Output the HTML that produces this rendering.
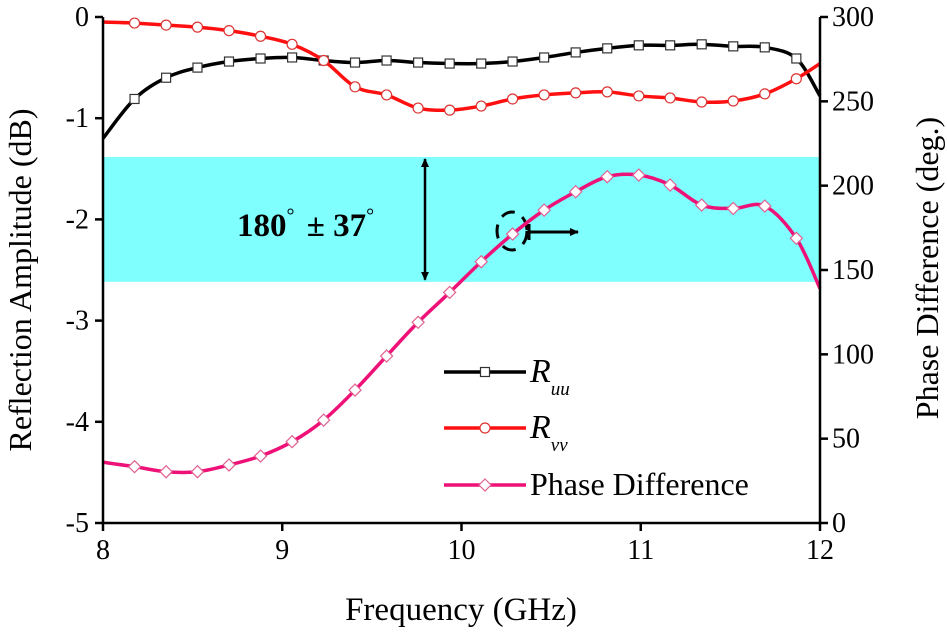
<!DOCTYPE html>
<html><head><meta charset="utf-8"><style>
body{margin:0;background:#fff}
svg{display:block;font-family:"Liberation Serif",serif}
</style></head><body>
<svg id="chart" width="947" height="636" viewBox="0 0 947 636"></svg>
<script>
const freqMarkers = [8.0,8.176,8.352,8.527,8.703,8.879,9.055,9.231,9.406,9.582,9.758,9.934,10.11,10.285,10.461,10.637,10.813,10.989,11.164,11.34,11.516,11.692,11.868,12.0];
const ruuValues = [-1.2,-0.81,-0.60,-0.50,-0.44,-0.41,-0.40,-0.43,-0.45,-0.43,-0.45,-0.46,-0.46,-0.44,-0.40,-0.35,-0.31,-0.28,-0.28,-0.27,-0.29,-0.30,-0.41,-0.78];
const rvvValues = [-0.05,-0.06,-0.08,-0.10,-0.135,-0.19,-0.27,-0.43,-0.69,-0.77,-0.90,-0.92,-0.88,-0.81,-0.77,-0.75,-0.74,-0.78,-0.80,-0.84,-0.83,-0.76,-0.61,-0.46];
const phaseValues = [36,33.4,30.4,30.4,34.4,39.7,48.2,61,78.8,99,119,136.7,154.9,171.3,185.5,196.4,205.3,206.3,200.4,188.5,186.5,187.9,168.8,139];
const xTicks = [8,9,10,11,12];
const yTicks = [0,-1,-2,-3,-4,-5];
const y2Ticks = [0,50,100,150,200,250,300];
const bandRange = [143,217];

const NS="http://www.w3.org/2000/svg";
const svg=document.getElementById('chart');
const X0=103,X1=820,Y0=17,Y1=523;
const xs=f=>X0+(f-8)/4*(X1-X0);
const ys=d=>Y0+(0-d)/5*(Y1-Y0);
const ys2=p=>Y1-p/300*(Y1-Y0);
function el(t,a,p){const e=document.createElementNS(NS,t);for(const k in a)e.setAttribute(k,a[k]);(p||svg).appendChild(e);return e;}
function smooth(pts){let d=`M${pts[0][0]},${pts[0][1]}`;for(let i=0;i<pts.length-1;i++){const p0=pts[i-1]||pts[i],p1=pts[i],p2=pts[i+1],p3=pts[i+2]||p2;
d+=` C${p1[0]+(p2[0]-p0[0])/6},${p1[1]+(p2[1]-p0[1])/6} ${p2[0]-(p3[0]-p1[0])/6},${p2[1]-(p3[1]-p1[1])/6} ${p2[0]},${p2[1]}`;}return d;}

const band=el('rect',{x:X0,y:ys2(bandRange[1]),width:X1-X0,height:ys2(bandRange[0])-ys2(bandRange[1]),fill:'#80ffff'});



const ann=el('text',{x:237,y:236,'font-size':33,'font-weight':'bold',fill:'#000'});


const a1=el('tspan',{},ann);a1.textContent='180';
const a2=el('tspan',{'font-size':20,dy:-14,'font-weight':'normal'},ann);a2.textContent='°';
const a3=el('tspan',{dy:14,dx:4},ann);a3.textContent=' ± 37';
const a4=el('tspan',{'font-size':20,dy:-14,'font-weight':'normal'},ann);a4.textContent='°';
const defs=el('defs',{});
const mk=el('marker',{id:'ah',markerWidth:10,markerHeight:10,refX:8,refY:5,orient:'auto-start-reverse',markerUnits:'userSpaceOnUse'},defs);
el('path',{d:'M0,1 L9,5 L0,9 Z',fill:'#000'},mk);
const da=el('line',{x1:425,y1:ys2(bandRange[1])+2,x2:425,y2:ys2(bandRange[0])-2,stroke:'#000','stroke-width':2.5,'marker-start':'url(#ah)','marker-end':'url(#ah)'});


const dc=el('ellipse',{cx:512,cy:231,rx:15,ry:19,fill:'none',stroke:'#000','stroke-width':3,'stroke-dasharray':'14 9'});


el('line',{x1:529,y1:224,x2:529,y2:240,stroke:'#000','stroke-width':3});
const ra=el('line',{x1:529,y1:232,x2:578,y2:232,stroke:'#000','stroke-width':3,'marker-end':'url(#ah)'});



function series(vals,yf,color,name,mkType){
 const g=el('g',{});
 
 
 const pts=freqMarkers.map((f,i)=>[xs(f),yf(vals[i])]);
 el('path',{d:smooth(pts),fill:'none',stroke:color,'stroke-width':3.5},g);
 pts.forEach((p,i)=>{if(i===0||i===pts.length-1)return;
  let m;
  if(mkType==='sq')m=el('rect',{x:p[0]-4.5,y:p[1]-4.5,width:9,height:9,fill:'#fff',stroke:'#333','stroke-width':1.2},g);
  else if(mkType==='ci')m=el('circle',{cx:p[0],cy:p[1],r:5,fill:'#fff',stroke:'#d33','stroke-width':1.2},g);
  else m=el('path',{d:`M${p[0]},${p[1]-6} L${p[0]+6},${p[1]} L${p[0]},${p[1]+6} L${p[0]-6},${p[1]} Z`,fill:'#fff',stroke:'#e06090','stroke-width':1.2},g);
  
  
 });
}
series(ruuValues,ys,'#000','ruu-series','sq');
series(rvvValues,ys,'#ff1010','rvv-series','ci');
series(phaseValues,ys2,'#ee1177','phase-series','di');

const fr=el('path',{d:`M${X0},${Y0} V${Y1} H${X1} V${Y0}`,fill:'none',stroke:'#000','stroke-width':2.5});


xTicks.forEach(t=>{el('line',{x1:xs(t),y1:Y1,x2:xs(t),y2:Y1+8,stroke:'#000','stroke-width':2.5});
 const tx=el('text',{x:xs(t),y:Y1+36,'font-size':28,'text-anchor':'middle'});tx.textContent=t;
 
 });
yTicks.forEach(t=>{el('line',{x1:X0-8,y1:ys(t),x2:X0,y2:ys(t),stroke:'#000','stroke-width':2.5});
 const tx=el('text',{x:X0-14,y:ys(t)+9,'font-size':28,'text-anchor':'end'});tx.textContent=t;
 
 });
y2Ticks.forEach(t=>{el('line',{x1:X1,y1:ys2(t),x2:X1+8,y2:ys2(t),stroke:'#000','stroke-width':2.5});
 const tx=el('text',{x:X1+12,y:ys2(t)+9,'font-size':28,'text-anchor':'start'});tx.textContent=t;
 
 });
const xt=el('text',{x:461,y:620,'font-size':33,'text-anchor':'middle'});xt.textContent='Frequency (GHz)';


const yt=el('text',{x:0,y:0,'font-size':32,'text-anchor':'middle',transform:`translate(31,280) rotate(-90)`});yt.textContent='Reflection Amplitude (dB)';


const y2t=el('text',{x:0,y:0,'font-size':32,'text-anchor':'middle',transform:`translate(938,268) rotate(-90)`});y2t.textContent='Phase Difference (deg.)';



const leg=[['#000','sq','R','uu',372],['#ff1010','ci','R','vv',428],['#ee1177','di','Phase Difference','',485]];
leg.forEach(l=>{const g=el('g',{});
 
 
 el('line',{x1:444,y1:l[4],x2:526,y2:l[4],stroke:l[0],'stroke-width':3.5},g);
 const cx=485,cy=l[4];
 if(l[1]==='sq')el('rect',{x:cx-4.5,y:cy-4.5,width:9,height:9,fill:'#fff',stroke:'#333','stroke-width':1.2},g);
 else if(l[1]==='ci')el('circle',{cx:cx,cy:cy,r:5,fill:'#fff',stroke:'#d33','stroke-width':1.2},g);
 else el('path',{d:`M${cx},${cy-6} L${cx+6},${cy} L${cx},${cy+6} L${cx-6},${cy} Z`,fill:'#fff',stroke:'#e06090','stroke-width':1.2},g);
 const t=el('text',{x:530,y:l[4]+10,'font-size':l[3]?34:32,'font-style':l[3]?'italic':'normal'},g);
 t.textContent=l[2];
 if(l[3]){const s=el('tspan',{'font-size':19,dy:13},t);s.textContent=l[3];}
});
</script>
</body></html>
